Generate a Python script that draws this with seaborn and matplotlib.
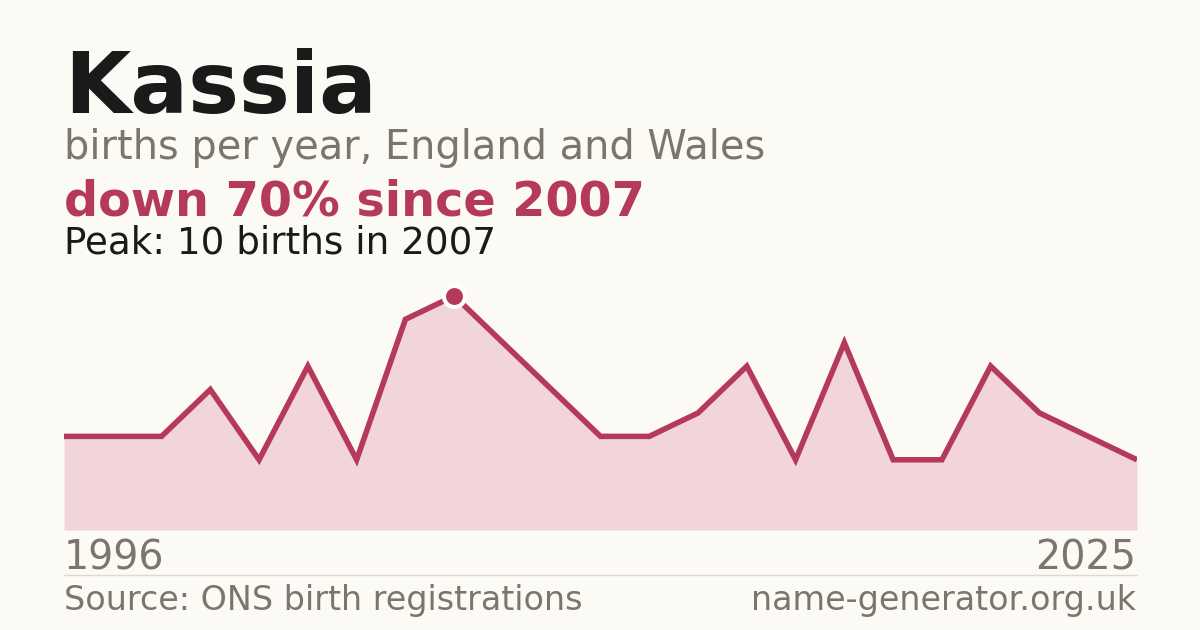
#!/usr/bin/env python3
"""Name trend card: births per year for one name."""

import matplotlib
matplotlib.use("Agg")
import matplotlib.pyplot as plt
import pandas as pd
import seaborn as sns

NAME = "Kassia"
FIRST_YEAR = "1996"
LAST_YEAR = "2025"
BIRTHS = [4, 4, 4, 6, 3, 7, 3, 9, 10, 8, 6, 4, 4, 5, 7, 3, 8, 3, 3, 7, 5, 4, 3]
PEAK_INDEX = 8

BG = "#fbfaf5"
RED = "#b5395a"
FILL = "#f1d5da"
GREY = "#7a766e"
INK = "#1a1a1a"


def main():
    sns.set_theme(style="white")
    plt.rcParams["font.family"] = ["DejaVu Sans"]

    df = pd.DataFrame({"idx": range(len(BIRTHS)), "births": BIRTHS})

    fig = plt.figure(figsize=(12, 6.3), dpi=100, facecolor=BG)
    # axes: x 64..1137 px, y 280..530 px
    ax = fig.add_axes([64 / 1200, 100 / 630, (1137 - 64) / 1200, 250 / 630])
    ax.set_facecolor(BG)

    ax.fill_between(df["idx"], df["births"], 0, color=FILL, linewidth=0)
    sns.lineplot(data=df, x="idx", y="births", ax=ax, color=RED, linewidth=4,
                 solid_capstyle="butt", solid_joinstyle="miter")
    peak = df.iloc[[PEAK_INDEX]]
    ax.scatter(peak["idx"], peak["births"], s=230, color=RED,
               edgecolor="white", linewidth=3, zorder=5)

    ax.set_xlim(0, len(BIRTHS) - 1)
    ax.set_ylim(0, 10.68)
    ax.axis("off")

    fig.text(64 / 1200, 1 - 113 / 630, NAME, fontsize=61.6, fontweight="bold",
             color=INK, va="baseline")
    fig.text(64 / 1200, 1 - 159 / 630, "births per year, England and Wales",
             fontsize=28.7, color=GREY, va="baseline")
    fig.text(64 / 1200, 1 - 215 / 630, "down 70% since 2007", fontsize=34.4,
             fontweight="bold", color=RED, va="baseline")
    fig.text(64 / 1200, 1 - 253 / 630, "Peak: 10 births in 2007", fontsize=26.8,
             color=INK, va="baseline")

    fig.text(64 / 1200, 1 - 570 / 630, FIRST_YEAR, fontsize=28.5, color=GREY,
             va="baseline", ha="left")
    fig.text(1136 / 1200, 1 - 570 / 630, LAST_YEAR, fontsize=28.5, color=GREY,
             va="baseline", ha="right")

    fig.add_artist(plt.Line2D([64 / 1200, 1137 / 1200], [1 - 574.5 / 630] * 2,
                              color="#dcd9d2", linewidth=1))

    fig.text(64 / 1200, 1 - 610 / 630, "Source: ONS birth registrations",
             fontsize=24, color=GREY, va="baseline", ha="left")
    fig.text(1136 / 1200, 1 - 610 / 630, "name-generator.org.uk",
             fontsize=24, color=GREY, va="baseline", ha="right")

    fig.savefig("out.png", dpi=100, facecolor=BG)
    plt.close(fig)


if __name__ == "__main__":
    main()
